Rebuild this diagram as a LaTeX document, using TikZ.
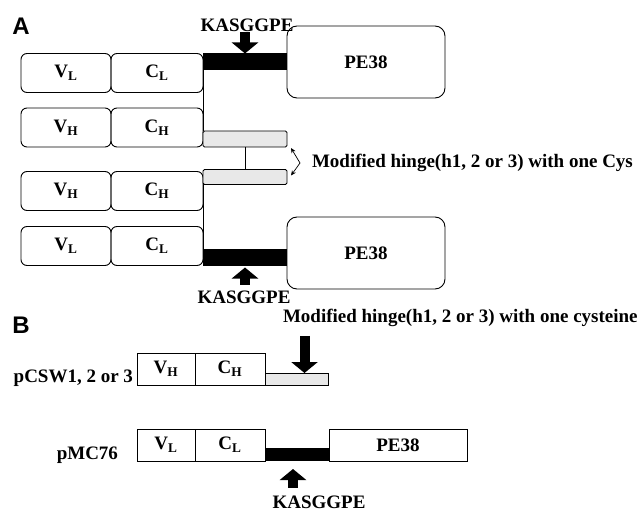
\documentclass[tikz,border=0pt]{standalone}
\usepackage{fontspec}
\setmainfont{Liberation Serif}
\setsansfont{Liberation Sans}
\usetikzlibrary{positioning,arrows.meta}

\begin{document}
\begin{tikzpicture}[x=1pt,y=-1pt,>={Stealth[length=5pt,width=4.5pt]},
  every node/.style={font=\bfseries\fontsize{19}{21}\selectfont,inner sep=0pt,outer sep=0pt},
  dom/.style={draw,line width=0.9pt,rounded corners=6pt,minimum height=39pt},
  flat/.style={draw,line width=0.9pt,minimum height=32pt},
  linker/.style={fill=black,minimum width=84pt,minimum height=17pt},
  hinge/.style={draw,line width=0.8pt,fill=black!9,rounded corners=1.5pt,minimum width=84pt,minimum height=16pt},
  toxin/.style={draw,line width=0.9pt,rounded corners=10pt,minimum width=158pt,minimum height=72pt},
  blockarrow/.style={line width=10pt,-{Triangle[width=26pt,length=11pt]}},
  panel/.style={font=\sffamily\bfseries\fontsize{24}{26}\selectfont}]
  \useasboundingbox (0,0) rectangle (641,511);

  % A: the dimer, two light chains fused to PE38
  \node[panel] (panA) at (21,26) {A};

  \node[dom,minimum width=90pt] (vl1) at (66,73) {V\textsubscript{L}};
  \node[dom,minimum width=92pt,right=0pt of vl1] (cl1) {C\textsubscript{L}};
  \node[dom,minimum width=90pt] (vh2) at (66,127.5) {V\textsubscript{H}};
  \node[dom,minimum width=92pt,right=0pt of vh2] (ch2) {C\textsubscript{H}};
  \node[dom,minimum width=90pt] (vh3) at (66,191) {V\textsubscript{H}};
  \node[dom,minimum width=92pt,right=0pt of vh3] (ch3) {C\textsubscript{H}};
  \node[dom,minimum width=90pt] (vl4) at (66,246) {V\textsubscript{L}};
  \node[dom,minimum width=92pt,right=0pt of vl4] (cl4) {C\textsubscript{L}};

  \node[linker,anchor=north west] (link1) at (cl1.north east) {};
  \node[toxin,anchor=west] (pe1) at (link1.east) {PE38};
  \node[hinge,anchor=south west] (hinge2) at (ch2.south east) {};
  \node[hinge,minimum height=15pt,anchor=north west] (hinge3) at ([yshift=2pt]ch3.north east) {};
  \node[linker,anchor=south west] (link4) at (cl4.south east) {};
  \node[toxin,anchor=west] (pe4) at ([yshift=4pt]link4.east) {PE38};

  \draw[line width=0.8pt] (link1.south west) -- (hinge2.north west);
  \draw[line width=0.8pt] (hinge2.south) -- (hinge3.north);
  \draw[line width=0.8pt] (hinge3.south west) -- (link4.north west);

  \node (kas1) at (247,25) {KASGGPE};
  \draw[blockarrow] ([yshift=-1pt]kas1.south -| link1.north) -- (link1.north);
  \node (kas4) at (244,297) {KASGGPE};
  \draw[blockarrow] ([yshift=6pt]kas4.north -| link4.south) -- ([yshift=-2pt]link4.south);

  \node[anchor=west] (cysA) at (312,163) {Modified hinge(h1, 2 or 3) with one Cys};
  \coordinate (fork) at (300,163);
  \draw[->,line width=0.7pt] (fork) -- ([shift={(4,1)}]hinge2.south east);
  \draw[->,line width=0.7pt] (fork) -- ([shift={(4,-1.5)}]hinge3.east);

  % B: the two expression plasmids
  \node[panel] (panB) at (21,325) {B};

  \node[anchor=west] (cysB) at (283,318) {Modified hinge(h1, 2 or 3) with one cysteine};
  \node[flat,minimum width=58pt] (vhB) at (166,369) {V\textsubscript{H}};
  \node[flat,minimum width=70pt,right=0pt of vhB] (chB) {C\textsubscript{H}};
  \node[hinge,rounded corners=0pt,minimum width=63pt,minimum height=12pt,anchor=south west] (hingeB) at (chB.south east) {};
  \node[anchor=base east] (pcsw) at (133,382) {pCSW1, 2 or 3};
  \coordinate (tipB) at ([xshift=8pt]hingeB.north);
  \coordinate (tailB) at (tipB |- cysB.south);
  \draw[blockarrow] ([yshift=-9pt]tailB) -- (tipB);

  \node[flat,minimum width=58pt] (vlB) at (166,445) {V\textsubscript{L}};
  \node[flat,minimum width=70pt,right=0pt of vlB] (clB) {C\textsubscript{L}};
  \node[linker,minimum width=64pt,minimum height=13pt,anchor=south west] (linkB) at (clB.south east) {};
  \node[flat,minimum width=138pt,anchor=south west] (peB) at (linkB.south east) {PE38};
  \node[anchor=base east] (pmc) at (118,459) {pMC76};
  \node (kasB) at (319,502) {KASGGPE};
  \coordinate (tipK) at ([xshift=-4pt,yshift=-8pt]linkB.south);
  \draw[blockarrow] ([yshift=8pt]tipK |- kasB.north) -- (tipK);
\end{tikzpicture}
\end{document}
